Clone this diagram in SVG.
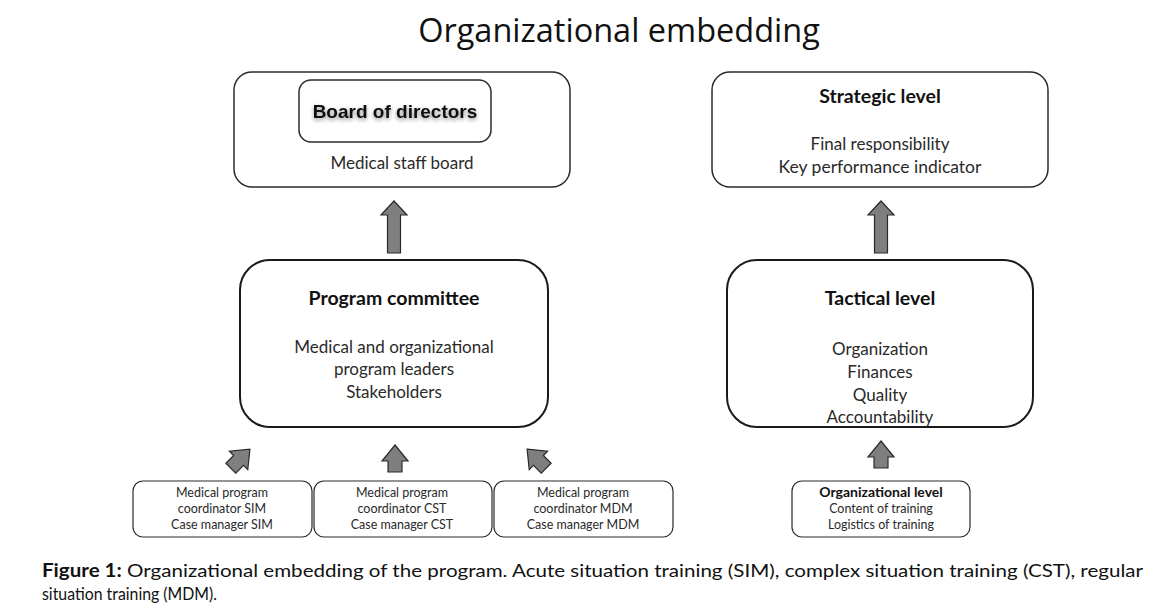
<svg xmlns="http://www.w3.org/2000/svg" width="1155" height="611" viewBox="0 0 1155 611">
<style>
.box{fill:#fff;stroke:#2b2b2b;stroke-width:1.5}
.bigbox{fill:#fff;stroke:#1a1a1a;stroke-width:2}
.t{font-family:Lato,"Open Sans",sans-serif;fill:#2a2a2a;text-anchor:middle}
.b{font-weight:bold;fill:#111}
.arr{fill:#7f7f7f;stroke:#2a2a2a;stroke-width:1.2;stroke-linejoin:miter}
.cap{font-family:Lato,"Open Sans",sans-serif;font-size:18px;fill:#111}
</style>
<defs>
<filter id="sh" x="-20%" y="-40%" width="140%" height="180%">
<feGaussianBlur in="SourceAlpha" stdDeviation="2"/>
<feOffset dx="0" dy="2" result="o"/>
<feComponentTransfer><feFuncA type="linear" slope="0.45"/></feComponentTransfer>
<feMerge><feMergeNode/><feMergeNode in="SourceGraphic"/></feMerge>
</filter>
<path id="bigArrow" d="M0,0 L13,14 L6.5,14 L6.5,52 L-6.5,52 L-6.5,14 L-13,14 Z"/>
<path id="smallArrow" d="M0,-14 L13,2 L7,2 L7,13 L-7,13 L-7,2 L-13,2 Z"/>
</defs>
<rect width="1155" height="611" fill="#fff"/>
<text x="619" y="42" class="t" style="font-family:'Open Sans',sans-serif;font-size:32.5px;fill:#111">Organizational embedding</text>

<g id="board">
<rect class="box" x="234" y="72" width="336" height="115" rx="18"/>
<rect class="box" x="299" y="80" width="192" height="62" rx="12"/>
<text x="395" y="118" style="font-family:'Liberation Sans',Arial,sans-serif;font-size:19px;font-weight:bold;fill:#111;text-anchor:middle" filter="url(#sh)">Board of directors</text>
<text x="402" y="169" class="t" style="font-size:17px">Medical staff board</text>
</g>

<g id="strategic">
<rect class="box" x="712" y="72" width="336" height="115" rx="18"/>
<text x="880" y="103" class="t b" style="font-size:19.5px">Strategic level</text>
<text x="880" y="150" class="t" style="font-size:17px">Final responsibility</text>
<text x="880" y="173" class="t" style="font-size:17.5px">Key performance indicator</text>
</g>

<g id="committee">
<rect class="bigbox" x="240" y="260" width="308" height="167" rx="30"/>
<text x="394" y="305" class="t b" style="font-size:19.5px">Program  committee</text>
<text x="394" y="353" class="t" style="font-size:17px">Medical and organizational</text>
<text x="394" y="375" class="t" style="font-size:17px">program leaders</text>
<text x="394" y="398" class="t" style="font-size:17px">Stakeholders</text>
</g>

<g id="tactical">
<rect class="bigbox" x="727" y="260" width="306" height="167" rx="30"/>
<text x="880" y="305" class="t b" style="font-size:19.5px">Tactical  level</text>
<text x="880" y="355" class="t" style="font-size:17px">Organization</text>
<text x="880" y="378" class="t" style="font-size:17px">Finances</text>
<text x="880" y="401" class="t" style="font-size:17px">Quality</text>
<text x="880" y="423" class="t" style="font-size:17px">Accountability</text>
</g>

<g id="sim">
<rect class="box" x="133" y="481" width="179" height="56" rx="10" style="stroke-width:1.2"/>
<text x="222" y="497" class="t" style="font-size:12.5px">Medical program</text>
<text x="222" y="513" class="t" style="font-size:12.5px">coordinator SIM</text>
<text x="222" y="529" class="t" style="font-size:12.5px">Case manager SIM</text>
</g>
<g id="cst">
<rect class="box" x="314" y="481" width="178" height="56" rx="10" style="stroke-width:1.2"/>
<text x="402" y="497" class="t" style="font-size:12.5px">Medical program</text>
<text x="402" y="513" class="t" style="font-size:12.5px">coordinator CST</text>
<text x="402" y="529" class="t" style="font-size:12.5px">Case manager CST</text>
</g>
<g id="mdm">
<rect class="box" x="494" y="481" width="179" height="56" rx="10" style="stroke-width:1.2"/>
<text x="583" y="497" class="t" style="font-size:12.5px">Medical program</text>
<text x="583" y="513" class="t" style="font-size:12.5px">coordinator MDM</text>
<text x="583" y="529" class="t" style="font-size:12.5px">Case manager MDM</text>
</g>
<g id="orglevel">
<rect class="box" x="792" y="481" width="178" height="56" rx="10" style="stroke-width:1.2"/>
<text x="881" y="497" class="t b" style="font-size:14px">Organizational level</text>
<text x="881" y="513" class="t" style="font-size:12.5px">Content  of training</text>
<text x="881" y="529" class="t" style="font-size:12.5px">Logistics of training</text>
</g>

<g id="connectors">
<use href="#bigArrow" class="arr" x="394" y="201"/>
<use href="#bigArrow" class="arr" x="881" y="201"/>
<use href="#smallArrow" class="arr" transform="translate(240,459) rotate(45)"/>
<use href="#smallArrow" class="arr" transform="translate(395,459)"/>
<use href="#smallArrow" class="arr" transform="translate(537,459) rotate(-45)"/>
<use href="#smallArrow" class="arr" transform="translate(881,455)"/>
</g>

<text x="42" y="577" class="cap" textLength="1101" lengthAdjust="spacingAndGlyphs"><tspan font-weight="bold">Figure 1:</tspan> Organizational embedding of the program. Acute situation training (SIM), complex situation training (CST), regular</text>
<text x="42" y="600" class="cap" textLength="175" lengthAdjust="spacingAndGlyphs">situation training (MDM).</text>
</svg>
